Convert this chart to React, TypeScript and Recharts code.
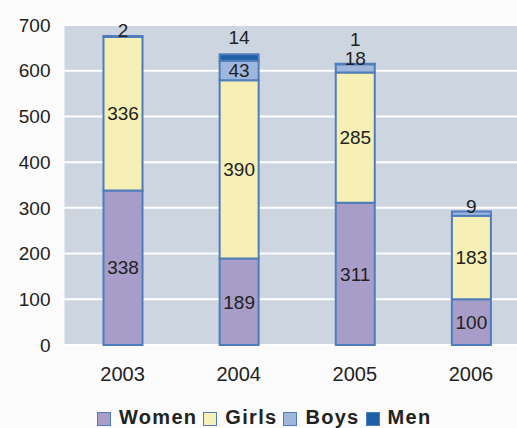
import { Bar, BarChart, CartesianGrid, LabelList, Legend, XAxis, YAxis } from "recharts";

const years = ["2003", "2004", "2005", "2006"];
const women = [338, 189, 311, 100];
const girls = [336, 390, 285, 183];
const boys = [2, 43, 18, 9];
const men = [0, 14, 1, 0];
const yTicks = [0, 100, 200, 300, 400, 500, 600, 700];

const FONT = '"Liberation Sans", Arial, sans-serif';
const STROKE = "#4f7dbb";

const series = [
  { key: "women", name: "Women", color: "#a89cc8" },
  { key: "girls", name: "Girls", color: "#f6f0b6" },
  { key: "boys", name: "Boys", color: "#9fb6dd" },
  { key: "men", name: "Men", color: "#1f5fa6" },
];

const data = years.map((year, i) => ({
  year,
  women: women[i],
  girls: girls[i],
  boys: boys[i],
  men: men[i],
}));

const labelStyle = { fontFamily: FONT, fontSize: 19, fill: "#222" };

// etiquetas de Boys y Men: dentro si el tramo es alto, si no encima de la barra
function TopLabels(props: any) {
  const { x, y, width, height, index } = props;
  const i = index as number;
  const cx = x + width / 2;
  const pxPerUnit = boys[i] ? height / boys[i] : 0;
  const inside = boys[i] >= 30;
  const top = y - men[i] * pxPerUnit;
  return (
    <g>
      {inside ? (
        <text x={cx} y={y + height / 2} textAnchor="middle" dominantBaseline="central" {...labelStyle}>
          {boys[i]}
        </text>
      ) : (
        <text x={cx} y={top + 1} textAnchor="middle" {...labelStyle}>
          {boys[i]}
        </text>
      )}
      {men[i] > 0 && (
        <text x={cx} y={inside ? top - 10 : top - 18} textAnchor="middle" {...labelStyle}>
          {men[i]}
        </text>
      )}
    </g>
  );
}

function LegendBox() {
  return (
    <div
      style={{
        display: "flex",
        justifyContent: "flex-start",
        alignItems: "center",
        gap: 6,
        paddingLeft: 97,
        height: 22,
        fontFamily: FONT,
        fontWeight: "bold",
        fontSize: 20,
        letterSpacing: 1.3,
        color: "#222",
      }}
    >
      {series.map((s) => (
        <span key={s.key} style={{ display: "flex", alignItems: "center", gap: 8 }}>
          <span
            style={{
              display: "inline-block",
              width: 12,
              height: 12,
              marginTop: 3,
              background: s.color,
              border: `1px solid ${STROKE}`,
            }}
          />
          {s.name}
        </span>
      ))}
    </div>
  );
}

export default function App() {
  return (
    <div
      style={{
        position: "fixed",
        top: 0,
        left: 0,
        width: 517,
        height: 428,
        overflow: "hidden",
        background: "#fbfbfb",
      }}
    >
      <BarChart width={540} height={428} data={data} margin={{ top: 25, right: 11, bottom: 0, left: 0 }}>
        <CartesianGrid vertical={false} stroke="#ffffff" strokeWidth={2} fill="#cdd5e1" />
        <XAxis
          dataKey="year"
          tickLine={false}
          axisLine={false}
          tickMargin={16}
          height={61}
          tick={{ fontFamily: FONT, fontSize: 20, fill: "#222" }}
        />
        <YAxis
          domain={[0, 700]}
          ticks={yTicks}
          width={64.5}
          tickLine={false}
          axisLine={false}
          tickMargin={8}
          tick={{ fontFamily: FONT, fontSize: 19, fill: "#222" }}
        />
        <Legend verticalAlign="bottom" content={<LegendBox />} wrapperStyle={{ left: 0, bottom: 0 }} />
        <Bar dataKey="women" name="Women" stackId="a" fill="#a89cc8" stroke={STROKE} strokeWidth={2} barSize={39} isAnimationActive={false}>
          <LabelList dataKey="women" position="center" style={labelStyle} />
        </Bar>
        <Bar dataKey="girls" name="Girls" stackId="a" fill="#f6f0b6" stroke={STROKE} strokeWidth={2} barSize={39} isAnimationActive={false}>
          <LabelList dataKey="girls" position="center" style={labelStyle} />
        </Bar>
        <Bar dataKey="boys" name="Boys" stackId="a" fill="#9fb6dd" stroke={STROKE} strokeWidth={2} barSize={39} isAnimationActive={false}>
          <LabelList dataKey="boys" content={<TopLabels />} />
        </Bar>
        <Bar dataKey="men" name="Men" stackId="a" fill="#1f5fa6" stroke={STROKE} strokeWidth={2} barSize={39} isAnimationActive={false} />
      </BarChart>
    </div>
  );
}
